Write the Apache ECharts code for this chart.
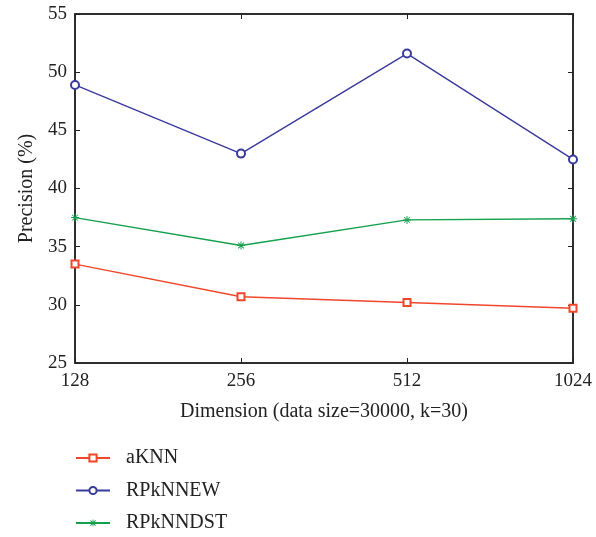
<!DOCTYPE html>
<html>
<head>
<meta charset="utf-8">
<script src="https://cdn.jsdelivr.net/npm/echarts@6/dist/echarts.min.js"></script>
<style>
html,body{margin:0;padding:0;background:#fff}
#chart{width:596px;height:537px}
</style>
</head>
<body>
<div id="chart"></div>
<script>
const dims = ['128', '256', '512', '1024'];
const aKNN = [33.5, 30.7, 30.2, 29.7];
const rpknnEW = [48.9, 43.0, 51.6, 42.5];
const rpknnDST = [37.5, 35.1, 37.3, 37.4];
const yTicks = [25, 55, 5]; // min, max, interval

var font = 'Liberation Serif';
var axisColor = '#222';
// asterisk marker
var star = 'path://M4.4,0H5.6V10H4.4Z M0,4.4H10V5.6H0Z M1,1.8L1.8,1L9,8.2L8.2,9Z M8.2,1L9,1.8L1.8,9L1,8.2Z';

var myChart = echarts.init(document.getElementById('chart'));
myChart.setOption({
  animation: false,
  textStyle: { fontFamily: font },
  grid: {
    left: 75, right: 23, top: 14, bottom: 174,
    show: true, borderColor: axisColor, borderWidth: 1.5
  },
  legend: {
    orient: 'vertical',
    left: 75, top: 448,
    padding: 0,
    itemWidth: 34, itemHeight: 9, itemGap: 12.5,
    textStyle: { fontFamily: font, fontSize: 20, color: '#222', padding: [0, 0, 0, 11] },
    data: ['aKNN', 'RPkNNEW', 'RPkNNDST']
  },
  xAxis: [{
    type: 'category',
    data: dims,
    boundaryGap: false,
    name: 'Dimension (data size=30000, k=30)',
    nameLocation: 'middle',
    nameGap: 39,
    nameTextStyle: { fontFamily: font, fontSize: 20, color: '#222' },
    axisLine: { lineStyle: { color: axisColor, width: 1.5 } },
    axisTick: { inside: true, length: 5, lineStyle: { color: axisColor } },
    axisLabel: { fontFamily: font, fontSize: 19, color: '#222', margin: 9, showMinLabel: true, showMaxLabel: true },
    splitLine: { show: false }
  }, {
    type: 'category',
    data: dims,
    boundaryGap: false,
    position: 'top',
    axisLine: { lineStyle: { color: axisColor, width: 1.5 } },
    axisTick: { inside: true, length: 5, lineStyle: { color: axisColor } },
    axisLabel: { show: false },
    splitLine: { show: false }
  }],
  yAxis: [{
    type: 'value',
    min: yTicks[0], max: yTicks[1], interval: yTicks[2],
    name: 'Precision (%)',
    nameLocation: 'middle',
    nameGap: 38,
    nameTextStyle: { fontFamily: font, fontSize: 20, color: '#222' },
    axisLine: { show: true, lineStyle: { color: axisColor, width: 1.5 } },
    axisTick: { show: true, inside: true, length: 5, lineStyle: { color: axisColor } },
    axisLabel: { fontFamily: font, fontSize: 19, color: '#222', margin: 8 },
    splitLine: { show: false }
  }, {
    type: 'value',
    position: 'right',
    min: yTicks[0], max: yTicks[1], interval: yTicks[2],
    axisLine: { show: true, lineStyle: { color: axisColor, width: 1.5 } },
    axisTick: { show: true, inside: true, length: 5, lineStyle: { color: axisColor } },
    axisLabel: { show: false },
    splitLine: { show: false }
  }],
  series: [
    {
      name: 'aKNN',
      type: 'line',
      data: aKNN,
      symbol: 'emptyRect',
      symbolSize: 7,
      lineStyle: { color: '#F2462B', width: 1.4 },
      itemStyle: { color: '#F2462B', borderWidth: 1.2 }
    },
    {
      name: 'RPkNNEW',
      type: 'line',
      data: rpknnEW,
      symbol: 'emptyCircle',
      symbolSize: 8,
      lineStyle: { color: '#3A3A9E', width: 1.4 },
      itemStyle: { color: '#3A3A9E', borderWidth: 1.2 }
    },
    {
      name: 'RPkNNDST',
      type: 'line',
      data: rpknnDST,
      symbol: star,
      symbolSize: 8,
      lineStyle: { color: '#13A04C', width: 1.4 },
      itemStyle: { color: '#13A04C' }
    }
  ]
});
</script>
</body>
</html>
